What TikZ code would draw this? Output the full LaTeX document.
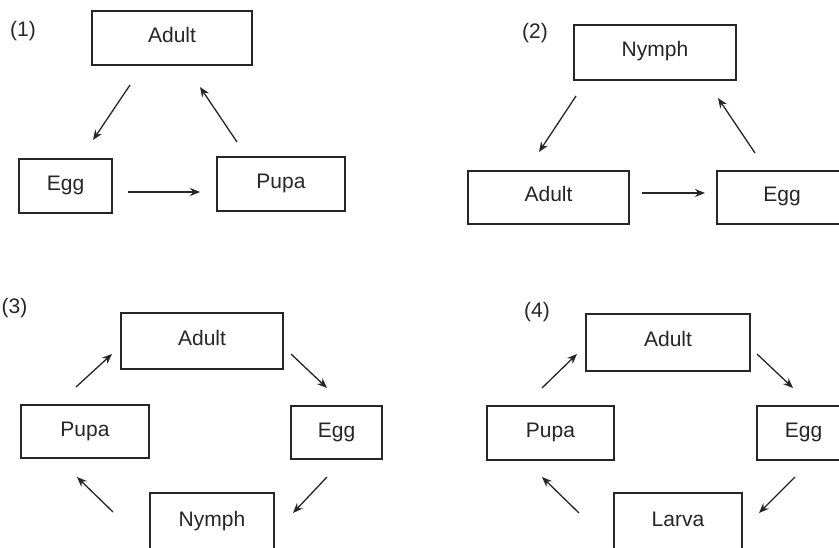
\documentclass[tikz,border=0pt]{standalone}
\usepackage{fontspec}
\setmainfont{Liberation Sans}
\usetikzlibrary{arrows.meta}
\begin{document}
\begin{tikzpicture}[x=1pt,y=-1pt,
  box/.style={draw=black!85, line width=1.5pt, inner sep=0pt,
    text=black!85, font=\fontsize{21}{24}\selectfont,
    text height=15pt, text depth=6pt},
  tag/.style={inner sep=0pt, text=black!85, font=\fontsize{21}{24}\selectfont},
  arr/.style={draw=black!85, line width=1.3pt, -{Stealth[length=10pt,width=8pt]}}]
\useasboundingbox (0,0) rectangle (839,548);
\clip (0,0) rectangle (839,548);
\fill[white] (0,0) rectangle (839,548);

% ---------- Panel 1 ----------
\node[tag] (t1) at (23,31) {(1)};
\node[box, minimum width=160pt, minimum height=54pt] (A1) at (172,38) {Adult};
\node[box, minimum width=93pt, minimum height=54pt] (E1) at (65.5,186) {Egg};
\node[box, minimum width=128pt, minimum height=54pt] (P1) at (281,184) {Pupa};
\coordinate (a1s) at (130,85);  \coordinate (a1e) at (93,140);
\coordinate (p1s) at (237,142); \coordinate (p1e) at (200,87);
\coordinate (e1s) at (128,192); \coordinate (e1e) at (200,192);
\draw[arr] (a1s) -- (a1e);
\draw[arr] (p1s) -- (p1e);
\draw[arr] (e1s) -- (e1e);

% ---------- Panel 2 ----------
\node[tag] (t2) at (535,33) {(2)};
\node[box, minimum width=162pt, minimum height=55pt] (N2) at (655,52.5) {Nymph};
\node[box, minimum width=161pt, minimum height=53pt] (A2) at (548.5,197.5) {Adult};
\node[box, minimum width=130pt, minimum height=53pt] (E2) at (782,197.5) {Egg};
\coordinate (n2s) at (576,96);  \coordinate (n2e) at (539,152);
\coordinate (e2s) at (755,153); \coordinate (e2e) at (718,98);
\coordinate (a2s) at (642,193); \coordinate (a2e) at (705,193);
\draw[arr] (n2s) -- (n2e);
\draw[arr] (e2s) -- (e2e);
\draw[arr] (a2s) -- (a2e);

% ---------- Panel 3 ----------
\node[tag] (t3) at (14.5,308) {(3)};
\node[box, minimum width=162pt, minimum height=56pt] (A3) at (202,341) {Adult};
\node[box, minimum width=128pt, minimum height=53pt] (P3) at (85,431.5) {Pupa};
\node[box, minimum width=91pt, minimum height=53pt] (E3) at (336.5,432.5) {Egg};
\node[box, minimum width=124pt, minimum height=58pt] (N3) at (212,522) {Nymph};
\coordinate (p3s) at (76,387);  \coordinate (p3e) at (112,354);
\coordinate (a3s) at (291,354); \coordinate (a3e) at (327,388);
\coordinate (e3s) at (327,477); \coordinate (e3e) at (293,513);
\coordinate (n3s) at (113,512); \coordinate (n3e) at (77,477);
\draw[arr] (p3s) -- (p3e);
\draw[arr] (a3s) -- (a3e);
\draw[arr] (e3s) -- (e3e);
\draw[arr] (n3s) -- (n3e);

% ---------- Panel 4 ----------
\node[tag] (t4) at (537,312) {(4)};
\node[box, minimum width=164pt, minimum height=57pt] (A4) at (668,342.5) {Adult};
\node[box, minimum width=127pt, minimum height=54pt] (P4) at (550.5,433) {Pupa};
\node[box, minimum width=93pt, minimum height=54pt] (E4) at (803.5,433) {Egg};
\node[box, minimum width=128pt, minimum height=58pt] (L4) at (678,522) {Larva};
\coordinate (p4s) at (542,388); \coordinate (p4e) at (577,354);
\coordinate (a4s) at (757,354); \coordinate (a4e) at (793,388);
\coordinate (e4s) at (795,477); \coordinate (e4e) at (759,513);
\coordinate (l4s) at (579,513); \coordinate (l4e) at (542,477);
\draw[arr] (p4s) -- (p4e);
\draw[arr] (a4s) -- (a4e);
\draw[arr] (e4s) -- (e4e);
\draw[arr] (l4s) -- (l4e);
\end{tikzpicture}
\end{document}
